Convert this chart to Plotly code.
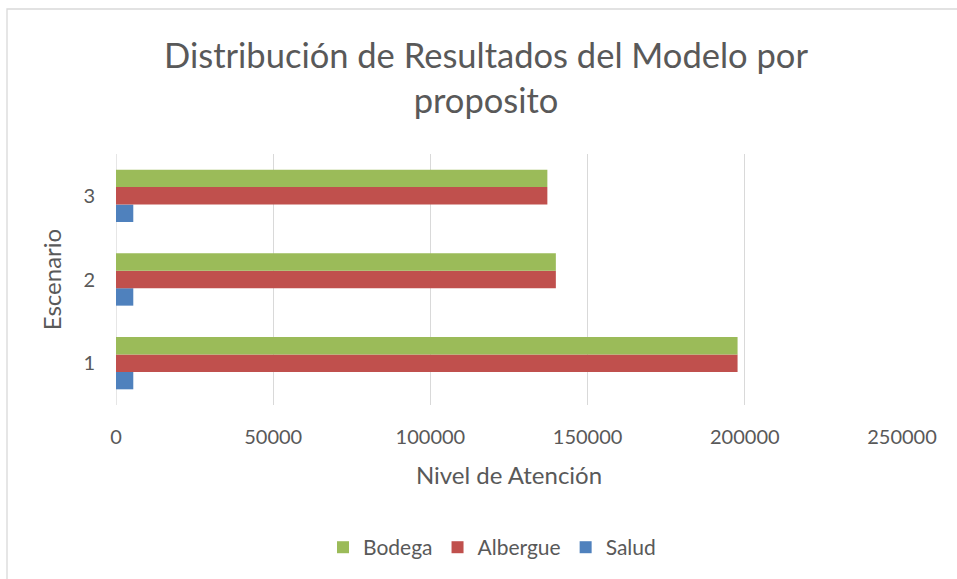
import plotly.graph_objects as go

categories = ["1", "2", "3"]
salud = [5500, 5500, 5500]
albergue = [197700, 139900, 137200]
bodega = [197700, 139900, 137200]
x_ticks = [0, 50000, 100000, 150000, 200000, 250000]

FONT = "Lato"
TXT = "#595959"

fig = go.Figure()
fig.add_trace(go.Bar(y=categories, x=salud, name="Salud", orientation="h",
                     marker=dict(color="#4F81BD", line=dict(width=0))))
fig.add_trace(go.Bar(y=categories, x=albergue, name="Albergue", orientation="h",
                     marker=dict(color="#C0504D", line=dict(width=0))))
fig.add_trace(go.Bar(y=categories, x=bodega, name="Bodega", orientation="h",
                     marker=dict(color="#9BBB59", line=dict(width=0))))

fig.update_layout(
    width=957, height=579,
    barmode="group", bargap=0.375, bargroupgap=0,
    paper_bgcolor="white", plot_bgcolor="white",
    margin=dict(l=116, r=55, t=154, b=174, autoexpand=False),
    font=dict(family=FONT, color=TXT, size=20),
    title=dict(text="Distribución de Resultados del Modelo por<br>proposito",
               x=486/957, xanchor="center", y=1-68/579, yanchor="middle",
               xref="container", yref="container",
               font=dict(family=FONT, size=34.5, color=TXT)),
    xaxis=dict(range=[0, 250000], tickvals=x_ticks, ticktext=[str(v) for v in x_ticks],
               showgrid=True, gridcolor="#D9D9D9", gridwidth=1.3, zeroline=False,
               showline=False, ticks="", tickfont=dict(size=20, color=TXT),
               ticklabelstandoff=18,
               title=dict(text="Nivel de Atención", font=dict(size=24, color=TXT), standoff=20)),
    yaxis=dict(categoryorder="array", categoryarray=categories,
               showgrid=False, zeroline=False, showline=False, ticks="",
               ticklabelstandoff=20,
               tickfont=dict(size=20, color=TXT),
               title=dict(text="Escenario", font=dict(size=24, color=TXT), standoff=14)),
    legend=dict(orientation="h", traceorder="reversed", x=(492-116)/786, xanchor="center",
                y=-(547-405)/250, yanchor="middle", font=dict(size=21, color=TXT),
                itemwidth=30, itemsizing="constant"),
    showlegend=True,
)
# vertical axis line at 0 (light grey like gridlines)
fig.add_shape(type="line", xref="x", yref="paper", x0=0, x1=0, y0=0, y1=1,
              line=dict(color="#D9D9D9", width=1.3), layer="below")
# chart border
fig.add_shape(type="rect", xref="paper", yref="paper",
              x0=(7-116)/786, x1=(962-116)/786, y0=(405-584)/251, y1=(405-9)/251,
              line=dict(color="#D9D9D9", width=1.3), fillcolor="rgba(0,0,0,0)")

fig.write_html("out.html", config={"displayModeBar": False},
               post_script="document.body.style.margin='0';")
